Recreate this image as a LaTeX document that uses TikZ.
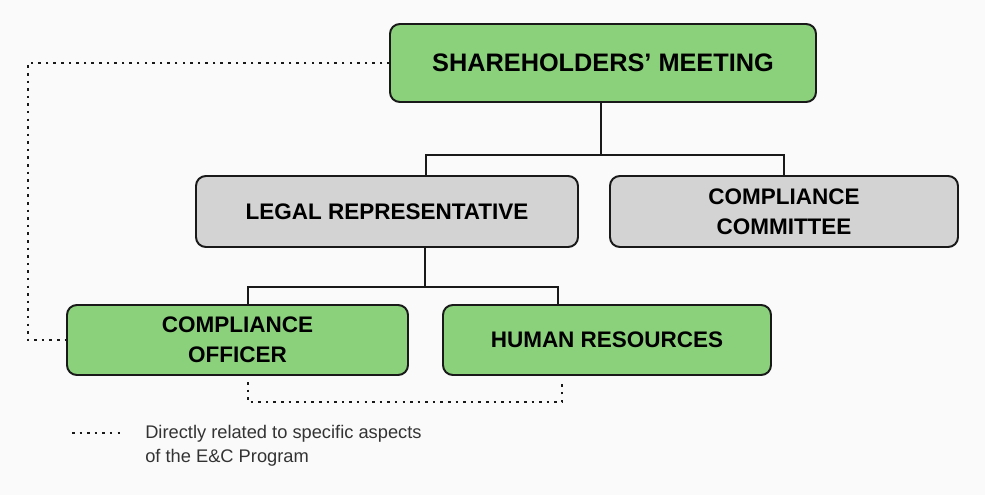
\documentclass[tikz,border=0pt]{standalone}
\usepackage{fontspec}
\setmainfont{Liberation Sans}
\usetikzlibrary{positioning,calc}
\definecolor{orggreen}{HTML}{8BD17C}
\definecolor{orggrey}{HTML}{D3D3D3}
\definecolor{paper}{HTML}{FAFAFA}
\definecolor{keygrey}{HTML}{333333}

\begin{document}
\begin{tikzpicture}[
    box/.style={draw=black!90, line width=1.4pt, rounded corners=7pt, align=center,
      inner sep=0pt, outer sep=0pt, font=\bfseries\fontsize{16}{21}\selectfont},
    greenbox/.style={box, fill=orggreen},
    greybox/.style={box, fill=orggrey},
    link/.style={line width=1.4pt, black!90},
    dotlink/.style={line width=1.8pt, dash pattern=on 1.8pt off 3.6pt, black!90},
    keylabel/.style={align=left, inner sep=0pt, text=keygrey,
      font=\fontsize{13}{17}\selectfont},
  ]
  \fill[paper] (0,0) rectangle (24.625,-12.375);
  \useasboundingbox (0,0) rectangle (24.625,-12.375);

  \node[greenbox, minimum width=10.65cm, minimum height=1.95cm,
    font=\bfseries\fontsize{18}{22}\selectfont] (sm) at (15.075,-1.575) {SHAREHOLDERS’ MEETING};
  \node[greybox, minimum width=9.55cm, minimum height=1.775cm, below=1.85cm of sm, xshift=-5.4cm] (lr) {LEGAL REPRESENTATIVE};
  \node[greybox, minimum width=8.7cm, minimum height=1.775cm, right=0.8cm of lr] (cc) {COMPLIANCE\\COMMITTEE};
  \node[greenbox, minimum width=8.525cm, minimum height=1.75cm, below=1.45cm of lr, xshift=-3.7375cm] (co) {COMPLIANCE\\OFFICER};
  \node[greenbox, minimum width=8.2cm, minimum height=1.75cm, right=0.875cm of co] (hr) {HUMAN RESOURCES};

  \coordinate (bus1) at ($(sm.south)+(-0.05cm,-1.325cm)$);
  \draw[link] ([xshift=-0.05cm]sm.south) -- (bus1);
  \draw[link] ([xshift=0.975cm]lr.north) |- (bus1) -| (cc.north);

  \coordinate (bus2) at ($(lr.south)+(0.95cm,-1cm)$);
  \draw[link] ([xshift=0.95cm]lr.south) -- (bus2);
  \draw[link] ([xshift=0.26cm]co.north) |- (bus2) -| ([xshift=-1.225cm]hr.north);

  \draw[dotlink] (sm.west) -| ([xshift=-0.975cm]co.west) -- (co.west);
  \draw[dotlink] ([xshift=0.26cm,yshift=-0.175cm]co.south)
    |- ([xshift=-1.125cm,yshift=-0.675cm]hr.south) -- ([xshift=-1.125cm,yshift=-0.2cm]hr.south);

  \coordinate (key) at ([xshift=0.125cm,yshift=-1.45cm]co.south west);
  \draw[dotlink] (key) -- ++(1.325cm,0) coordinate (keyend);
  \node[keylabel, anchor=north west] (keytext) at ([xshift=0.5cm,yshift=0.2cm]keyend)
    {Directly related to specific aspects\\of the E\&C Program};
\end{tikzpicture}
\end{document}
